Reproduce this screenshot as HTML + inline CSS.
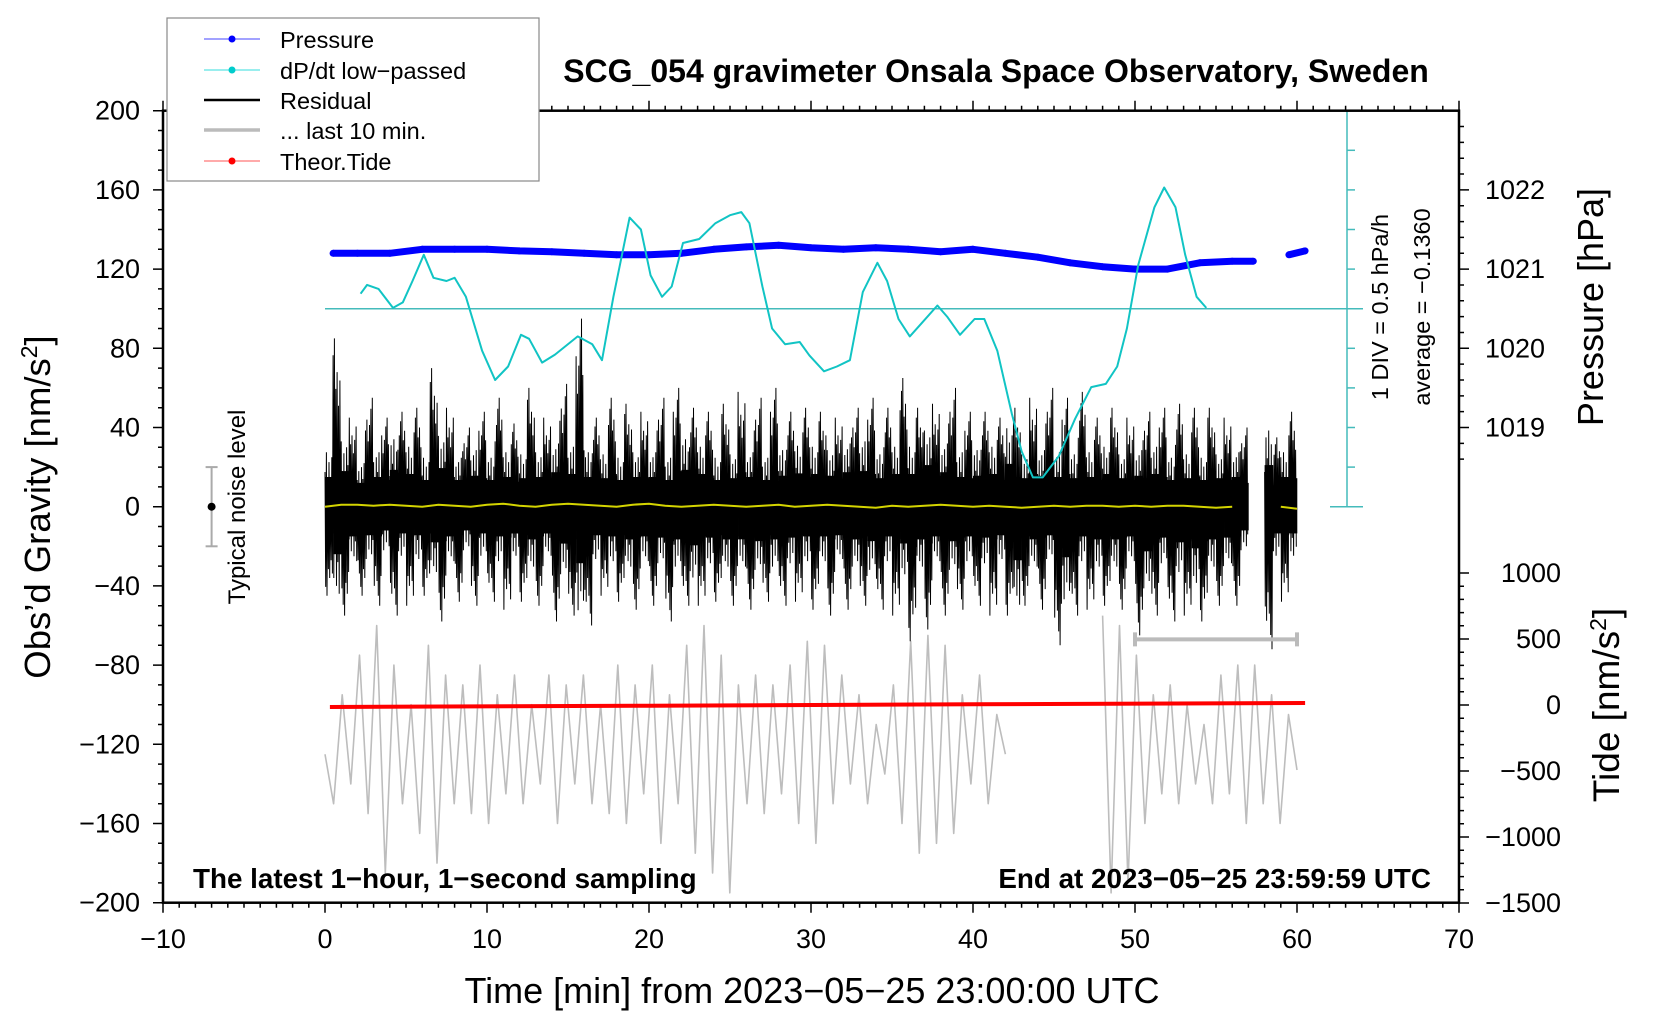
<!DOCTYPE html>
<html><head><meta charset="utf-8"><style>
html,body{margin:0;padding:0;background:#fff;}
svg{display:block;font-family:"Liberation Sans",sans-serif;}
</style></head><body>
<svg id="chart" width="1660" height="1020" viewBox="0 0 1660 1020" xmlns="http://www.w3.org/2000/svg">
<rect x="0" y="0" width="1660" height="1020" fill="#fff"/>
<g id="marks"></g>
<g id="axes"></g>
<g id="legend">
<rect x="167" y="18" width="372" height="163" fill="#fff" stroke="#888" stroke-width="1.2"/>
<g><line x1="204" y1="39" x2="260" y2="39" stroke="#4444ff" stroke-width="1"/><circle cx="232" cy="39" r="3.5" fill="#0000ff"/><text x="280" y="48" font-size="23.5">Pressure</text></g>
<g><line x1="204" y1="70" x2="260" y2="70" stroke="#33dddd" stroke-width="1"/><circle cx="232" cy="70" r="3.5" fill="#00cccc"/><text x="280" y="79" font-size="23.5">dP/dt low−passed</text></g>
<g><line x1="204" y1="100" x2="260" y2="100" stroke="#000" stroke-width="2.5"/><text x="280" y="109" font-size="23.5">Residual</text></g>
<g><line x1="204" y1="130" x2="260" y2="130" stroke="#bbb" stroke-width="3.5"/><text x="280" y="139" font-size="23.5">... last 10 min.</text></g>
<g><line x1="204" y1="161" x2="260" y2="161" stroke="#ff5555" stroke-width="1"/><circle cx="232" cy="161" r="3.5" fill="#ff0000"/><text x="280" y="170" font-size="23.5">Theor.Tide</text></g>
</g>
<text x="996" y="82" font-size="32" font-weight="bold" text-anchor="middle">SCG_054 gravimeter Onsala Space Observatory, Sweden</text>
<text x="193" y="888" font-size="27.8" font-weight="bold">The latest 1−hour, 1−second sampling</text>
<text x="1431" y="888" font-size="27.8" font-weight="bold" text-anchor="end">End at 2023−05−25 23:59:59 UTC</text>
<text x="812" y="1003" font-size="36" text-anchor="middle">Time [min] from 2023−05−25 23:00:00 UTC</text>
<text transform="translate(50,507) rotate(-90)" font-size="36.5" text-anchor="middle">Obs’d Gravity [nm/s<tspan dy="-13" font-size="23">2</tspan><tspan dy="13">]</tspan></text>
<text transform="translate(1603,307) rotate(-90)" font-size="36" text-anchor="middle">Pressure [hPa]</text>
<text transform="translate(1619,705) rotate(-90)" font-size="37" text-anchor="middle">Tide [nm/s<tspan dy="-13" font-size="23">2</tspan><tspan dy="13">]</tspan></text>
<text transform="translate(1388,307) rotate(-90)" font-size="23.5" text-anchor="middle">1 DIV = 0.5 hPa/h</text>
<text transform="translate(1430,307) rotate(-90)" font-size="23.5" text-anchor="middle">average = −0.1360</text>
<text transform="translate(245,507) rotate(-90)" font-size="24" text-anchor="middle">Typical noise level</text>
</svg>
<script>
const xTicks=[-10,0,10,20,30,40,50,60,70];
const yTicks=[-200,-160,-120,-80,-40,0,40,80,120,160,200];
const pTicks=[1019,1020,1021,1022];
const tideTicks=[-1500,-1000,-500,0,500,1000];
const resHi=[50,85,60,45,40,55,50,45,62,48,55,50,45,70,65,50,45,40,52,48,45,55,50,42,48,60,50,45,58,62,55,95,50,45,48,55,45,52,50,48,50,55,45,60,62,50,55,48,45,52,48,58,50,55,45,60,52,48,56,50,55,48,52,45,58,50,60,55,48,50,55,65,55,50,70,52,58,60,50,48,52,48,55,45,72,50,48,55,52,60,50,55,48,58,50,45,55,50,48,45,52,48,55,50,45,52,48,50,45,50,48,45,50,40,null,null,70,35,50,48];
const resLo=[-45,-80,-55,-50,-45,-48,-50,-40,-55,-45,-50,-48,-45,-60,-58,-50,-48,-40,-50,-45,-48,-50,-52,-45,-48,-55,-50,-45,-58,-62,-55,-95,-60,-48,-45,-50,-48,-55,-52,-50,-50,-52,-58,-55,-50,-65,-50,-52,-48,-55,-50,-55,-52,-58,-48,-55,-50,-52,-48,-50,-52,-50,-55,-48,-52,-55,-50,-58,-52,-50,-55,-62,-68,-55,-62,-50,-55,-58,-52,-50,-50,-52,-55,-48,-55,-90,-50,-55,-52,-48,-70,-85,-55,-50,-52,-55,-50,-55,-52,-50,-65,-75,-55,-52,-58,-60,-55,-70,-58,-55,-50,-52,-50,-40,null,null,-72,-45,-48,-45];
const yellowVals=[0,1,1,0.5,1,0.5,0,1,0.5,0,1,1.5,0.5,0,1,1.5,1,0.5,0,1,1.5,0.5,0,0.5,1,0.5,0,0.5,1,0,0.5,1,0.5,0,-0.5,0.5,0,0.5,1,0.5,0,0.5,0,-0.5,0,0.5,0,0.5,0.5,0,0.5,0,0.5,0.5,0,-0.5,0,null,null,0,-1];
const pressTimes=[0.5,2,4,6,8,10,12,14,16,18,20,22,24,26,28,30,32,34,36,38,40,42,44,46,48,50,52,54,56,57.3,59.5,60.5];
const pressVals=[1021.2,1021.2,1021.2,1021.25,1021.25,1021.25,1021.23,1021.22,1021.2,1021.18,1021.18,1021.2,1021.25,1021.28,1021.3,1021.27,1021.25,1021.27,1021.25,1021.22,1021.25,1021.2,1021.15,1021.08,1021.03,1021.0,1021.0,1021.08,1021.1,1021.1,1021.18,1021.23];
const dpTimes=[2.2,2.6,3.3,4.2,4.8,5.4,6.1,6.7,7.5,8.0,8.7,9.7,10.5,11.3,12.1,12.6,13.4,14.2,15.6,16.5,17.1,17.8,18.8,19.5,20.1,20.8,21.4,22.1,23.1,24.1,25.0,25.7,26.2,27.0,27.6,28.4,29.3,29.9,30.8,31.6,32.4,33.2,34.1,34.7,35.4,36.1,36.8,37.8,38.4,39.2,40.1,40.7,41.5,42.4,43.0,43.7,44.3,45.3,46.3,47.3,48.2,48.9,49.5,50.2,51.2,51.8,52.5,53.1,53.8,54.4];
const dpVals=[0.19,0.30,0.25,0.01,0.08,0.35,0.68,0.39,0.35,0.39,0.15,-0.53,-0.90,-0.73,-0.33,-0.38,-0.68,-0.58,-0.35,-0.45,-0.65,0.15,1.15,1.0,0.42,0.15,0.28,0.83,0.88,1.08,1.18,1.22,1.08,0.28,-0.25,-0.45,-0.42,-0.59,-0.79,-0.73,-0.65,0.21,0.58,0.35,-0.13,-0.35,-0.19,0.04,-0.1,-0.33,-0.13,-0.13,-0.53,-1.33,-1.8,-2.13,-2.13,-1.86,-1.39,-0.99,-0.95,-0.73,-0.25,0.55,1.28,1.53,1.28,0.68,0.15,0.01];
const tideTimes=[0.3,20,40,60.5];
const tideVals=[-15,-5,5,15];
const grayVals1=[-125,-150,-95,-140,-75,-155,-60,-185,-80,-150,-100,-165,-70,-180,-85,-150,-90,-155,-80,-160,-95,-145,-85,-150,-100,-140,-85,-160,-90,-140,-85,-150,-100,-155,-80,-160,-90,-145,-80,-170,-95,-150,-70,-175,-60,-185,-75,-195,-90,-150,-85,-155,-90,-145,-80,-160,-68,-170,-70,-150,-85,-140,-95,-150,-110,-135,-90,-160,-68,-175,-65,-170,-70,-165,-95,-140,-85,-150,-105,-125];
const grayVals2=[-55,-195,-60,-190,-75,-160,-95,-145,-90,-150,-100,-140,-110,-150,-85,-145,-80,-160,-80,-150,-95,-160,-105,-133];
const grayRanges=[[0,42],[48,60]];
const last10Bar=[50,60,-67];
const noiseLevel=[-7,-20,20];

const NS='http://www.w3.org/2000/svg';
const X0=163,X1=1459,Y0=110.7,Y1=902.7;
function xs(t){return X0+(t+10)/80*(X1-X0);}
function ys(g){return Y0+(200-g)/400*(Y1-Y0);}
function yp(p){return ys(120+(p-1021)*40);}
function yd(v){return ys(100+v*40);}
function ytide(n){return 705+(-n)*0.132;}
function mk(tag,attrs,parent){const e=document.createElementNS(NS,tag);for(const k in attrs)e.setAttribute(k,attrs[k]);parent.appendChild(e);return e;}
const marks=document.getElementById('marks'),axes=document.getElementById('axes');

// gray last 10 min
grayRanges.forEach((r,ri)=>{
  const vals=ri===0?grayVals1:grayVals2;
  let d='';
  vals.forEach((v,i)=>{const t=r[0]+(r[1]-r[0])*i/(vals.length-1);d+=(i?'L':'M')+xs(t).toFixed(1)+' '+ys(v).toFixed(1);});
  const p=mk('path',{d:d,fill:'none',stroke:'#bdbdbd','stroke-width':1.6,'stroke-linejoin':'round'},marks);
  
  
});
// residual
(function(){
  const n=resHi.length,bw=60/n;let d='';let pen=false;
  const fr=[0.35,0.9,0.55,1.0,0.3,0.7,0.45,0.8,0.25,0.6,0.5,0.75];
  for(let i=0;i<n;i++){
    if(resHi[i]==null){pen=false;continue;}
    const t=i*bw,h=resHi[i],l=resLo[i];
    for(let k=0;k<fr.length;k++){
      const tt=t+bw*k/fr.length;
      const v=(k%2===0)?h*fr[(k+i)%fr.length]:l*fr[(k+i*5)%fr.length];
      d+=(pen?'L':'M')+xs(tt).toFixed(1)+' '+ys(v).toFixed(1);pen=true;
    }
    const r=mk('rect',{x:xs(t).toFixed(1),y:ys(h*0.3).toFixed(1),width:(xs(t+bw)-xs(t)+0.3).toFixed(1),height:(ys(l*0.3)-ys(h*0.3)).toFixed(1),fill:'#000'},marks);
    
    
  }
  const p=mk('path',{d:d,fill:'none',stroke:'#000','stroke-width':1},marks);
  
  
})();
// yellow
(function(){let d='';let pen=false;yellowVals.forEach((v,i)=>{if(v==null){pen=false;return;}d+=(pen?'L':'M')+xs(i).toFixed(1)+' '+ys(v).toFixed(1);pen=true;});
const p=mk('path',{d:d,fill:'none',stroke:'#d4d400','stroke-width':2},marks);

})();
// tide
(function(){let d='';tideTimes.forEach((t,i)=>{d+=(i?'L':'M')+xs(t).toFixed(1)+' '+ytide(tideVals[i]).toFixed(1);});
const p=mk('path',{d:d,fill:'none',stroke:'#ff0000','stroke-width':4},marks);

})();
// pressure
(function(){let d='';let pen=false;pressTimes.forEach((t,i)=>{const gap=i>0&&t-pressTimes[i-1]>2;d+=((pen&&!gap)?'L':'M')+xs(t).toFixed(1)+' '+yp(pressVals[i]).toFixed(1);pen=true;});
const p=mk('path',{d:d,fill:'none',stroke:'#0000ff','stroke-width':7,'stroke-linejoin':'round'},marks);


pressTimes.forEach((t,i)=>{const c=mk('circle',{cx:xs(t).toFixed(1),cy:yp(pressVals[i]).toFixed(1),r:3.5,fill:'#0000ff'},marks);

});})();
// dpdt baseline and axis
(function(){
  const cx=1347;
  const bl=mk('line',{x1:xs(0),y1:yd(0),x2:1363,y2:yd(0),stroke:'#44bbbb','stroke-width':1.5},marks);
  
  
  const ax=mk('line',{x1:cx,y1:yd(2.5),x2:cx,y2:yd(-2.5),stroke:'#44bbbb','stroke-width':1.5},marks);
  
  
  for(let k=-5;k<=5;k++){
    const w=(k===5||k===-5||k===0)?[1330,1363]:[cx,cx+8];
    const tk=mk('line',{x1:w[0],y1:yd(k*0.5),x2:w[1],y2:yd(k*0.5),stroke:'#44bbbb','stroke-width':1.5},marks);
    
    
  }
  let d='';dpTimes.forEach((t,i)=>{d+=(i?'L':'M')+xs(t).toFixed(1)+' '+yd(dpVals[i]).toFixed(1);});
  const p=mk('path',{d:d,fill:'none',stroke:'#11c4c4','stroke-width':2,'stroke-linejoin':'round'},marks);
  
  
})();
// last 10 min bar
(function(){const y=ys(last10Bar[2]),a=xs(last10Bar[0]),b=xs(last10Bar[1]);
const g=mk('g',{stroke:'#bbb','stroke-width':4},marks);


mk('line',{x1:a,y1:y,x2:b,y2:y},g);mk('line',{x1:a,y1:y-7,x2:a,y2:y+7},g);mk('line',{x1:b,y1:y-7,x2:b,y2:y+7},g);})();
// noise level bar
(function(){const x=xs(noiseLevel[0]),a=ys(noiseLevel[2]),b=ys(noiseLevel[1]);
const g=mk('g',{stroke:'#aaa','stroke-width':2},marks);


mk('line',{x1:x,y1:a,x2:x,y2:b},g);mk('line',{x1:x-6,y1:a,x2:x+6,y2:a},g);mk('line',{x1:x-6,y1:b,x2:x+6,y2:b},g);
mk('circle',{cx:x,cy:ys(0),r:4,fill:'#000',stroke:'none'},g);})();

// axes frame
(function(){
  const f=mk('rect',{x:X0,y:Y0,width:X1-X0,height:Y1-Y0,fill:'none',stroke:'#000','stroke-width':2.5},axes);
  
  
  let d='';
  for(let t=-10;t<=70;t++){const L=t%10===0?10:5,x=xs(t);d+=`M${x} ${Y1}v${L}M${x} ${Y0}v${-L}`;}
  for(let g=-200;g<=200;g+=10){const L=g%40===0?10:5,y=ys(g);d+=`M${X0} ${y}h${-L}`;}
  for(let p=1018.6;p<=1022.95;p+=0.2){const y=yp(p);if(y<Y0)continue;const L=Math.abs(p-Math.round(p))<0.01?10:5;d+=`M${X1} ${y}h${L}`;}
  for(let n=-1500;n<=1000;n+=100){const y=ytide(n);const L=n%500===0?10:5;d+=`M${X1} ${y}h${L}`;}
  const tk=mk('path',{d:d,stroke:'#000','stroke-width':1.5,fill:'none'},axes);
  
  
  xTicks.forEach(t=>{const e=mk('text',{x:xs(t),y:948,'font-size':27,'text-anchor':'middle'},axes);e.textContent=String(t).replace('-','−');
  
  });
  yTicks.forEach(g=>{const e=mk('text',{x:140,y:ys(g)+9,'font-size':27,'text-anchor':'end'},axes);e.textContent=String(g).replace('-','−');
  
  });
  pTicks.forEach(p=>{const e=mk('text',{x:1485,y:yp(p)+9,'font-size':27},axes);e.textContent=p;
  
  });
  tideTicks.forEach(n=>{const e=mk('text',{x:1561,y:ytide(n)+9,'font-size':27,'text-anchor':'end'},axes);e.textContent=String(n).replace('-','−');
  
  });
})();
</script>
</body></html>
